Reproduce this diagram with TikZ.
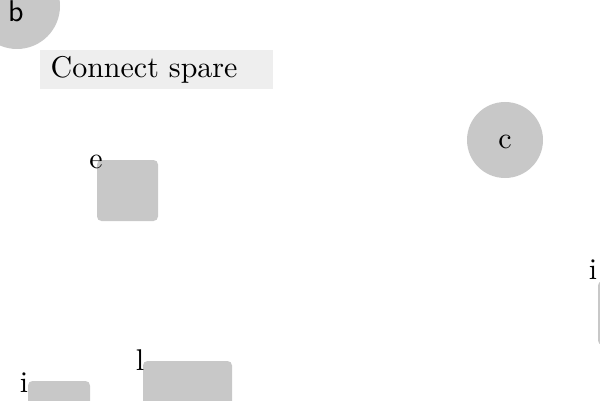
\documentclass[tikz,border=0pt]{standalone}
\definecolor{shapegray}{HTML}{C8C8C8}
\definecolor{panelgray}{HTML}{EEEEEE}
\tikzset{
  px/.style={x=0.3333pt,y=-0.3333pt},
  blob/.style={circle,fill=shapegray,inner sep=0pt},
  box/.style={rectangle,rounded corners=1.5pt,fill=shapegray,inner sep=0pt},
  lbl/.style={inner sep=0pt,font=\normalsize}
}
\begin{document}
\begin{tikzpicture}[px]
\useasboundingbox (0,0) rectangle (600,400);
\clip (0,0) rectangle (600,400);
% b circle
\node[blob,minimum size=86*0.3333pt] (b) at (17,6) {};
\node[lbl,font=\sffamily] (bl) at (16,11) {b};
% Connect spare panel
\node[rectangle,fill=panelgray,minimum width=233*0.3333pt,minimum height=39*0.3333pt,inner sep=0pt] (cs) at (156.5,69.5) {};
\node[lbl,anchor=west] (cst) at (50,70) {Connect spare};
% c circle
\node[blob,minimum size=76*0.3333pt] (c) at (505,140) {};
\node[lbl] (cl) at (505,142) {c};
% e box
\node[box,minimum width=61*0.3333pt,minimum height=61*0.3333pt] (e) at (127.5,190.5) {};
\node[lbl] (el) at (96,162) {e};
% right box
\node[box,minimum width=62*0.3333pt,minimum height=64*0.3333pt] (r) at (629,313) {};
\node[lbl] (rl) at (593,270) {i};
% bottom-left box
\node[box,minimum width=62*0.3333pt,minimum height=60*0.3333pt] (i) at (59,411) {};
\node[lbl] (il) at (24,383) {i};
% bottom box l
\node[box,minimum width=89*0.3333pt,minimum height=70*0.3333pt] (l) at (187.5,396) {};
\node[lbl] (ll) at (140,360) {l};
\end{tikzpicture}
\end{document}
